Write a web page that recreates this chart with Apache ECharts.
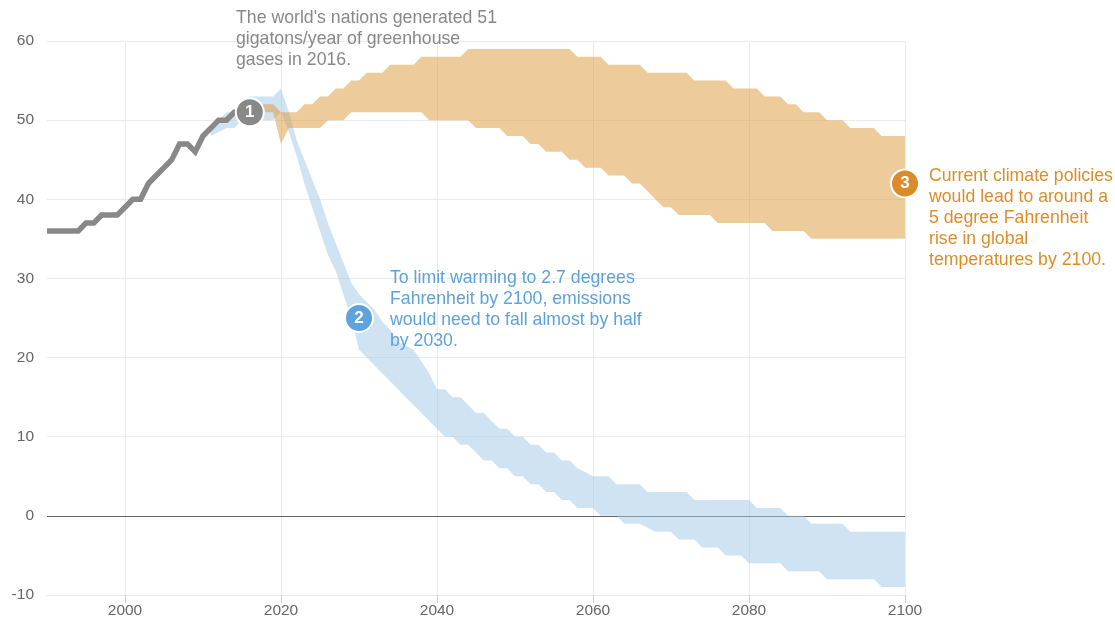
<!DOCTYPE html>
<html>
<head>
<meta charset="utf-8">
<script src="https://cdn.jsdelivr.net/npm/echarts@6/dist/echarts.min.js"></script>
<style>
html,body{margin:0;padding:0;background:#fff;}
#chart{width:1115px;height:623px;}
</style>
</head>
<body>
<div id="chart"></div>
<script>
// ---- Data ----
const histYears = [1990,1991,1992,1993,1994,1995,1996,1997,1998,1999,2000,2001,2002,2003,2004,2005,2006,2007,2008,2009,2010,2011,2012,2013,2014,2015,2016];
const histValues = [36,36,36,36,36,37,37,38,38,38,39,40,40,42,43,44,45,47,47,46,48,49,50,50,51,51,51];

const blueYears = [];
for (let y = 2011; y <= 2100; y++) blueYears.push(y);
const blueLow = [48,48.5,49,49,50,50,50,50,50,51,
  48.5,45.5,42,39,36,33,31,28,25,21,
  20,19,18,17,16,15,14,13,12,11,
  10,10,9,9,8,7,7,6,6,5,
  5,4,4,3,3,2,2,1,1,1,
  0,0,0,-1,-1,-1,-1.5,-2,-2,-2,
  -3,-3,-3,-4,-4,-4,-5,-5,-5,-6,
  -6,-6,-6,-6,-7,-7,-7,-7,-7,-8,
  -8,-8,-8,-8,-8,-8,-9,-9,-9,-9];
const blueHigh = [48.5,50,51,51,52,53,53,53,53,54,
  51,47.5,45,42.5,40,37,34.5,32,29.5,28,
  27,26,24.5,23.5,22,21.5,21,19.5,18,16,
  16,15,15,14,13,13,12,11,11,10,
  10,9,9,8,8,7,7,6,5.5,5,
  5,5,4,4,4,4,3,3,3,3,
  3,3,2,2,2,2,2,2,2,2,
  1,1,1,1,0,0,0,-1,-1,-1,
  -1,-1,-2,-2,-2,-2,-2,-2,-2,-2];

const orangeYears = [];
for (let y = 2017; y <= 2100; y++) orangeYears.push(y);
const orangeLow = [51,51,51,47,
  49,49,49,49,49,50,50,50,51,51,
  51,51,51,51,51,51,51,51,50,50,
  50,50,50,50,49,49,49,49,48,48,
  48,47,47,46,46,46,45,45,44,44,
  44,43,43,43,42,42,41,40,39,39,
  38,38,38,38,38,37,37,37,37,37,
  37,37,36,36,36,36,36,35,35,35,
  35,35,35,35,35,35,35,35,35,35];
const orangeHigh = [52,52,52,51,
  51,51,52,52,53,53,54,54,55,55,
  56,56,56,57,57,57,57,58,58,58,
  58,58,58,59,59,59,59,59,59,59,
  59,59,59,59,59,59,59,58,58,58,
  58,57,57,57,57,57,56,56,56,56,
  56,56,55,55,55,55,55,54,54,54,
  54,53,53,53,52,52,51,51,51,50,
  50,50,49,49,49,49,48,48,48,48];

const markerYears = [2016, 2030, 2100];
const markerValues = [51, 25, 42];
const markerLabels = ['1', '2', '3'];
const markerColors = ['#888888', '#5fa3dc', '#db8b28'];

const xTickYears = [2000, 2020, 2040, 2060, 2080, 2100];
const yTicks = [-10, 0, 10, 20, 30, 40, 50, 60];

const noteGray = "The world's nations generated 51\ngigatons/year of greenhouse\ngases in 2016.";
const noteBlue = "To limit warming to 2.7 degrees\nFahrenheit by 2100, emissions\nwould need to fall almost by half\nby 2030.";
const noteOrange = "Current climate policies\nwould lead to around a\n5 degree Fahrenheit\nrise in global\ntemperatures by 2100.";

// ---- Chart ----
const FONT = '"Liberation Sans", Arial, Helvetica, sans-serif';
const chart = echarts.init(document.getElementById('chart'), null, {renderer: 'canvas'});

function bandSeries(name, years, low, high, fill, z) {
  return {
    type: 'custom',
    name: name,
    z: z,
    silent: true,
    clip: false,
    coordinateSystem: 'cartesian2d',
    encode: {x: 0, y: 1},
    data: years.map((y, i) => [y, low[i], high[i]]),
    renderItem: function (params, api) {
      if (params.dataIndex !== 0) return null;
      const pts = [];
      for (let i = 0; i < years.length; i++) pts.push(api.coord([years[i], high[i]]));
      for (let i = years.length - 1; i >= 0; i--) pts.push(api.coord([years[i], low[i]]));
      return {type: 'polygon', shape: {points: pts}, style: {fill: fill}};
    }
  };
}

const option = {
  animation: false,
  backgroundColor: '#ffffff',
  grid: {left: 47, right: 210, top: 41, bottom: 28, containLabel: false},
  xAxis: {
    type: 'value',
    min: 1990, max: 2100,
    splitNumber: 5,
    axisLine: {show: true, onZero: false, lineStyle: {color: '#e8e8e8', width: 1}},
    axisTick: {show: true, length: 8, lineStyle: {color: '#cccccc'}},
    axisLabel: {
      color: '#666', fontSize: 15.5, fontFamily: FONT, margin: 8,
      showMinLabel: false,
      formatter: function (v) { return xTickYears.indexOf(v) >= 0 ? String(v) : ''; }
    },
    splitLine: {show: true, showMinLine: false, lineStyle: {color: '#ebebeb', width: 1}}
  },
  yAxis: {
    type: 'value',
    min: yTicks[0], max: yTicks[yTicks.length - 1], interval: 10,
    axisLine: {show: false},
    axisTick: {show: false},
    axisLabel: {color: '#666', fontSize: 15.5, fontFamily: FONT, margin: 13},
    splitLine: {show: true, lineStyle: {color: '#ebebeb', width: 1}}
  },
  series: [
    bandSeries('1.5C pathway', blueYears, blueLow, blueHigh, 'rgba(160,200,232,0.5)', 2),
    bandSeries('Current policies', orangeYears, orangeLow, orangeHigh, 'rgba(221,151,55,0.5)', 3),
    {
      type: 'line',
      name: 'Historical',
      z: 4,
      silent: true,
      showSymbol: false,
      data: histYears.map((y, i) => [y, histValues[i]]),
      lineStyle: {color: '#888888', width: 5.5, join: 'miter'},
      markLine: {
        silent: true,
        z: 1,
        symbol: ['none', 'none'],
        label: {show: false},
        lineStyle: {color: '#666666', width: 1, type: 'solid'},
        data: [{yAxis: 0}]
      }
    },
    {
      type: 'scatter',
      name: 'Markers',
      z: 6,
      silent: true,
      clip: false,
      symbol: 'circle',
      symbolSize: 28,
      data: markerYears.map((y, i) => ({
        value: [y, markerValues[i]],
        itemStyle: {color: markerColors[i], borderColor: '#fff', borderWidth: 2, opacity: 1},
        label: {
          show: true, position: 'inside', formatter: markerLabels[i],
          color: '#fff', fontSize: 17, fontWeight: 'bold', fontFamily: FONT
        }
      }))
    }
  ],
  graphic: [
    {type: 'text', left: 236, top: 8, z: 10, silent: true,
      style: {text: noteGray, fill: '#888888', font: '17.7px ' + FONT, lineHeight: 21}},
    {type: 'text', left: 390, top: 268, z: 10, silent: true,
      style: {text: noteBlue, fill: '#5ea2dc', font: '17.7px ' + FONT, lineHeight: 21}},
    {type: 'text', left: 929, top: 166, z: 10, silent: true,
      style: {text: noteOrange, fill: '#dc8d2a', font: '17.7px ' + FONT, lineHeight: 21}}
  ]
};
chart.setOption(option);
</script>
</body>
</html>
